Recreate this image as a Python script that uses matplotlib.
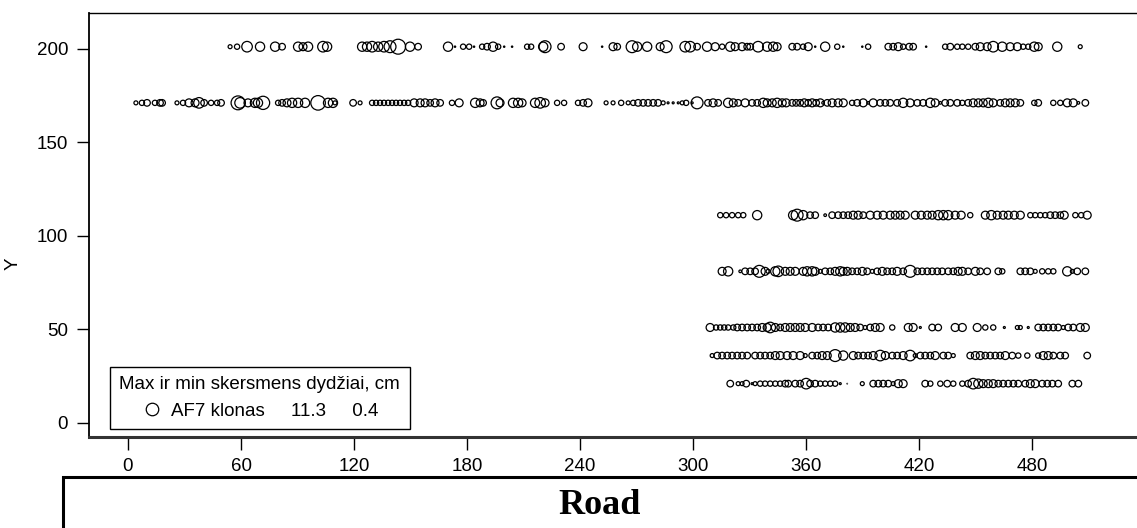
import matplotlib
matplotlib.use("Agg")
import matplotlib.pyplot as plt
from matplotlib.lines import Line2D
from matplotlib.patches import Rectangle

# rows of trees: Y position, X positions and stem diameter (cm)
y201 = 201
x201 = [54.2, 57.9, 63.2, 70.1, 78.1, 81.8, 90.3, 92.9, 95.6, 103.5, 105.7,
        124.3, 126.9, 129.6, 132.8, 135.9, 139.1, 143.4, 149.7, 154.0,
        169.9, 173.6, 177.9, 181.1, 183.7, 188.0, 190.6, 193.8, 196.5, 199.7, 203.9,
        211.9, 214.0, 220.4, 221.4, 229.9, 241.6, 251.7, 257.5, 259.7,
        267.6, 270.3, 275.6, 282.5, 285.7,
        295.8, 298.4, 302.1, 307.4, 311.7, 315.4, 319.7, 322.3, 326.0, 328.7, 330.3,
        334.5, 339.3, 342.5, 344.6,
        352.6, 355.2, 358.4, 361.1, 364.8, 370.1, 376.5, 379.7, 389.8, 392.9,
        403.6, 406.2, 408.9, 411.5, 414.7, 416.8, 423.7,
        433.8, 436.5, 440.2, 442.9, 446.0, 449.8, 452.4, 456.1, 459.3, 464.1, 468.3,
        472.1, 475.2, 477.9, 481.1, 483.2, 493.3, 505.5]
d201 = [3, 4, 8, 7, 7, 5, 7, 6, 7, 8, 7,
        7, 7, 8, 7, 8, 9, 11.3, 7, 5,
        7, 1, 4, 4, 1, 4, 5, 7, 4, 1, 1,
        4, 4, 7, 9, 5, 6, 1, 6, 5,
        9, 7, 7, 6, 9,
        8, 8, 5, 7, 6, 4, 7, 6, 6, 5, 5,
        8, 7, 7, 6,
        5, 5, 4, 6, 1, 7, 4, 1, 1, 4,
        5, 5, 6, 4, 5, 5, 1,
        4, 5, 4, 4, 4, 5, 6, 6, 8, 7, 6,
        6, 4, 4, 7, 6, 7, 3]

y171 = 171
x171 = [4.2, 7.4, 10.1, 14.3, 17.0, 18.1,
        26.0, 29.2, 32.4, 35.6, 37.7, 40.4, 44.1, 47.3, 49.4,
        58.4, 59.5, 63.7, 67.4, 69.0, 71.7,
        79.7, 81.8, 84.4, 87.1, 90.3, 94.0, 100.9, 106.2, 108.8, 109.9,
        119.5, 123.2,
        129.6, 131.7, 133.8, 135.9, 138.1, 140.2, 142.3, 144.4, 146.6, 148.7,
        151.9, 155.1, 157.7, 160.4, 163.0, 165.7, 172.0, 175.8,
        184.3, 186.9, 188.5, 195.9, 197.5, 204.4, 207.1, 209.2,
        216.1, 218.8, 221.4, 227.8, 231.5, 238.9, 241.6, 244.2,
        253.8, 257.5, 261.8,
        265.5, 268.2, 270.8, 273.5, 276.1, 278.8, 281.4, 284.1, 286.7, 289.4,
        292.1, 294.2, 296.3, 299.5, 302.1,
        307.9, 310.6, 313.3, 318.6, 321.3, 323.9, 327.6, 331.3, 334.0,
        337.2, 339.3, 342.0, 344.6, 347.3, 349.4,
        352.6, 354.7, 356.8, 359.0, 361.1, 363.2, 365.3, 367.5, 369.0,
        371.2, 373.8, 377.0, 379.7, 384.4, 387.1, 390.3, 392.9,
        395.6, 399.3, 402.0, 404.6, 408.3, 411.5, 415.2, 419.0, 422.1, 425.9,
        428.5, 431.2, 433.8, 436.5, 440.2, 442.9, 446.0, 448.7, 451.4, 454.0,
        456.7, 459.3, 463.0, 465.7, 468.3, 471.0, 473.7,
        481.1, 483.2, 491.2, 494.9, 498.6, 501.8, 504.5, 508.2]
d171 = [3, 4, 5, 4, 5, 5,
        3, 4, 6, 6, 8, 5, 4, 4, 5,
        10.5, 8, 6, 7, 7, 10,
        4, 5, 6, 7, 7, 7, 11, 7, 7, 3,
        5, 3,
        4, 4, 4, 4, 4, 4, 4, 4, 4, 4,
        6, 6, 6, 5, 6, 5, 4, 6,
        7, 6, 5, 9, 6, 7, 7, 6,
        7, 8, 6, 4, 4, 4, 5, 6,
        3, 3, 4,
        3, 4, 5, 5, 5, 5, 5, 3, 1.5, 1.5,
        1.5, 3, 4, 1.5, 9,
        5, 6, 5, 7, 6, 5, 6, 5, 5,
        7, 6, 6, 7, 6, 6,
        5, 5, 5, 6, 5, 6, 5, 6, 2,
        5, 6, 6, 6, 4, 5, 6, 2,
        6, 5, 5, 5, 5, 7, 6, 5, 5, 7,
        6, 2, 5, 5, 5, 4, 5, 6, 6, 6,
        7, 6, 5, 6, 6, 6, 5,
        4, 5, 4, 4, 6, 6, 2, 5]

y111 = 111
x111 = [314.4, 317.5, 320.7, 323.9, 326.6, 334.0,
        353.1, 355.2, 358.4, 362.1, 364.8, 370.1, 373.8, 377.0, 379.7, 382.3,
        385.0, 387.6, 390.3, 394.0, 397.7, 400.9, 404.6, 407.3, 409.9, 412.6,
        417.9, 421.1, 424.3, 426.9, 430.1, 432.8, 435.4, 439.1, 442.3, 447.1,
        455.1, 458.3, 461.4, 464.6, 467.3, 470.5, 473.7,
        479.0, 481.6, 484.3, 486.9, 489.6, 492.2, 494.9, 497.0,
        502.9, 506.0, 509.2]
d111 = [4, 4, 4, 4, 4, 7,
        7, 9, 7, 5, 5, 2, 5, 5, 5, 5,
        6, 6, 5, 6, 6, 6, 6, 6, 6, 6,
        6, 6, 6, 6, 7, 7, 7, 6, 6, 4,
        6, 7, 6, 6, 6, 6, 6,
        4, 4, 4, 4, 5, 5, 5, 6,
        4, 4, 6]

y81 = 81
x81 = [315.4, 318.6, 325.0, 327.6, 330.3, 332.9, 335.1, 338.2, 339.8, 343.6,
       345.2, 348.9, 351.5, 354.2, 358.4, 360.5, 363.2, 364.8, 367.5, 370.1,
       372.8, 375.4, 378.1, 379.7, 381.8, 384.4, 387.1, 389.8, 392.4, 395.1,
       397.7, 400.4, 403.0, 405.7, 408.3, 411.5, 415.2, 419.0, 421.6, 424.3,
       426.9, 429.6, 432.2, 435.4, 438.1, 440.7, 442.9, 446.0, 449.8, 452.4,
       456.1, 462.0, 464.1, 473.7, 476.3, 479.0, 481.6, 485.3, 488.5, 491.2,
       498.6, 501.3, 503.9, 508.2]
d81 = [6, 7, 2, 5, 5, 5, 9, 6, 3, 7,
       8, 6, 6, 6, 6, 7, 7, 6, 3, 5,
       5, 6, 7, 6, 6, 5, 5, 6, 5, 3,
       5, 6, 5, 5, 6, 5, 9, 5, 5, 5,
       5, 5, 5, 5, 5, 6, 6, 5, 6, 5,
       5, 5, 4, 5, 5, 5, 3, 4, 4, 4,
       7, 3, 5, 5]

y51 = 51
x51 = [309.0, 312.2, 314.4, 316.5, 318.6, 321.3, 323.4, 326.0, 328.7, 331.3,
       334.0, 336.7, 339.3, 340.9, 343.6, 346.2, 348.9, 351.5, 354.2, 356.8,
       359.5, 363.2, 366.4, 369.0, 371.7, 375.4, 378.1, 380.7, 383.4, 386.0,
       388.7, 391.3, 394.0, 396.7, 399.3, 405.7, 414.2, 416.8, 420.6, 426.9,
       430.1, 439.1, 442.9, 450.8, 455.1, 459.3, 465.2, 472.1, 473.7, 477.9,
       483.2, 485.9, 488.5, 491.2, 493.8, 496.5, 499.1, 501.8, 505.5, 508.2]
d51 = [6, 4, 4, 4, 4, 4, 5, 5, 5, 5,
       5, 6, 6, 8, 6, 5, 6, 6, 6, 6,
       6, 6, 5, 5, 5, 7, 7, 7, 6, 6,
       5, 3, 5, 6, 6, 4, 6, 6, 1.5, 5,
       5, 6, 6, 6, 4, 4, 1.5, 3, 3, 1.5,
       5, 5, 5, 5, 5, 3, 5, 5, 6, 6]

y36 = 36
x36 = [310.1, 312.8, 315.4, 318.1, 320.7, 323.4, 326.0, 328.7, 332.9, 335.6,
       338.2, 340.9, 343.6, 346.2, 349.9, 353.1, 356.8, 359.5, 363.2, 365.9,
       368.5, 371.2, 375.4, 379.7, 385.0, 387.6, 390.3, 392.9, 395.6, 399.3,
       402.0, 405.7, 408.3, 411.5, 415.2, 417.9, 420.6, 423.2, 425.9, 428.5,
       432.8, 435.4, 438.1, 447.1, 449.8, 452.4, 455.1, 457.7, 460.4, 463.0,
       465.7, 469.4, 472.6, 477.4, 483.2, 485.9, 488.5, 491.2, 494.9, 497.5,
       509.2]
d36 = [3, 5, 5, 5, 5, 5, 5, 5, 5, 5,
       5, 5, 6, 6, 6, 6, 6, 3, 5, 5,
       6, 6, 9, 7, 6, 5, 5, 5, 6, 8,
       6, 5, 5, 6, 8, 3, 5, 5, 5, 6,
       5, 5, 3, 5, 6, 6, 5, 5, 5, 5,
       6, 5, 4, 4, 4, 6, 6, 5, 5, 5,
       5]

y21 = 21
x21 = [319.7, 323.9, 326.0, 328.2, 331.3, 332.9, 335.6, 338.2, 340.9, 343.6,
       346.2, 348.9, 350.5, 354.2, 356.8, 360.0, 362.1, 364.8, 367.5, 370.1,
       372.8, 375.4, 378.1, 381.8, 389.8, 395.6, 398.3, 400.9, 403.6, 406.2,
       408.9, 411.5, 423.2, 425.9, 431.2, 434.9, 438.1, 442.9, 446.0, 448.7,
       451.4, 454.0, 456.7, 459.3, 462.0, 464.6, 467.3, 470.0, 472.6, 476.3,
       479.0, 481.6, 485.3, 488.0, 490.7, 493.8, 501.3, 504.5]
d21 = [5, 3, 3, 5, 1.5, 3, 4, 4, 4, 4,
       4, 5, 5, 5, 5, 8, 5, 5, 4, 4,
       4, 4, 1.5, 0.4, 3, 5, 5, 5, 5, 3,
       6, 6, 5, 4, 4, 5, 4, 4, 5, 8,
       7, 6, 6, 6, 5, 5, 5, 5, 5, 5,
       6, 6, 5, 5, 5, 5, 5, 5]

rows = [(y201, x201, d201), (y171, x171, d171), (y111, x111, d111),
        (y81, x81, d81), (y51, x51, d51), (y36, x36, d36), (y21, x21, d21)]

x_ticks = [0, 60, 120, 180, 240, 300, 360, 420, 480]
y_ticks = [0, 50, 100, 150, 200]

plt.rcParams['font.family'] = ['Liberation Sans', 'DejaVu Sans']

fig = plt.figure(figsize=(11.37, 5.28), dpi=100)
ax = fig.add_axes([89 / 1137, 91 / 528, 1060 / 1137, 424 / 528])

# circle diameter proportional to stem diameter
for yy, xs, ds in rows:
    sizes = [(0.95 * d) ** 2 for d in ds]
    ax.scatter(xs, [yy] * len(xs), s=sizes, facecolors='none',
               edgecolors='black', linewidths=0.9, zorder=3)

ax.set_xlim(-20.7, 542)
ax.set_ylim(-7.5, 219)
ax.set_xticks(x_ticks)
ax.set_yticks(y_ticks)
ax.tick_params(axis='both', labelsize=13.5, length=9, width=1, pad=6)
ax.set_ylabel('Y', fontsize=13.5)
ax.yaxis.set_label_coords(22 / 1137, 0.5, transform=fig.transFigure)

ax.spines['right'].set_visible(False)
ax.spines['top'].set_linewidth(1.0)
ax.spines['left'].set_linewidth(1.3)
ax.spines['bottom'].set_linewidth(2.2)
ax.spines['bottom'].set_color('#333333')

# legend box
handle = Line2D([], [], marker='o', linestyle='none', markerfacecolor='none',
                markeredgecolor='black', markersize=9, markeredgewidth=0.9)
leg = ax.legend([handle], ['AF7 klonas     11.3     0.4'],
                title='Max ir min skersmens dydžiai, cm',
                loc='lower left', bbox_to_anchor=(110 / 1137, 99 / 528),
                bbox_transform=fig.transFigure, borderaxespad=0,
                fontsize=13.5, title_fontsize=13.5, fancybox=False,
                edgecolor='black', framealpha=1, borderpad=0.5,
                handletextpad=0.4, handlelength=1.2)
leg.get_frame().set_linewidth(1.0)

# road box below the plot
road = Rectangle((63 / 1137, -0.1), 1.0, 0.1966, transform=fig.transFigure,
                 fill=False, edgecolor='black', linewidth=2.2)
fig.patches.append(road)
fig.text(600 / 1137, 22 / 528, 'Road', ha='center', va='center',
         fontsize=26, fontweight='bold', family='Liberation Serif')

fig.savefig('out.png', dpi=100)
